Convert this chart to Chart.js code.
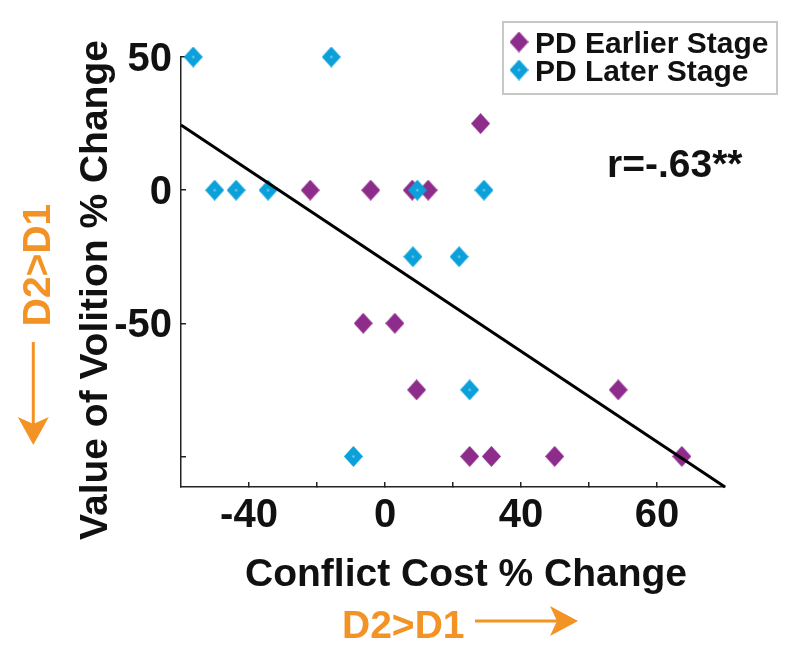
<!DOCTYPE html>
<html><head><meta charset="utf-8">
<script src="https://cdn.jsdelivr.net/npm/chart.js@4.4.1/dist/chart.umd.min.js"></script>
<style>html,body{margin:0;padding:0;background:#fff;overflow:hidden}canvas{display:block}</style>
</head><body>
<canvas id="c" width="800" height="667"></canvas>
<script>
// ---- data ----
const earlierX = [-22, -4.2, 8.0, 12.7, 28.1, -6.4, 2.9, 9.3, 68.6, 24.9, 31.3, 49.9, 87.3];
const earlierY = [0, 0, 0, 0, 25, -50, -50, -75, -75, -100, -100, -100, -100];
const laterX = [-56.4, -15.8, -50.1, -43.8, -34.4, 9.5, 29.1, 8.2, 21.8, 24.9, -9.3];
const laterY = [50, 50, 0, 0, 0, 0, 0, -25, -25, -75, -100];
const fitX = [-60, 100];
const fitY = [24.5, -111.5];
const xTickValues = [-40, -20, 0, 20, 40, 60, 80];
const xTickLabels = ['-40', '', '0', '', '40', '', '60'];
const yTickValues = [-100, -50, 0, 50];
const yTickLabels = ['', '-50', '0', '50'];
const seriesNames = ['PD Earlier Stage', 'PD Later Stage'];
const xTitle = 'Conflict Cost % Change';
const yTitle = 'Value of Volition % Change';
const corrText = 'r=-.63**';
const dirText = 'D2>D1';

const FONT = '"Liberation Sans", Arial, Helvetica, sans-serif';
const ORANGE = '#F39325';
const PURPLE = '#8E2C8C';
const CYAN = '#0BA0DA';
const INK = '#111111';

function diamond(color, w, h, dot) {
  const c = document.createElement('canvas');
  c.width = w; c.height = h;
  const g = c.getContext('2d');
  g.fillStyle = color;
  g.beginPath();
  g.moveTo(w / 2, 0); g.lineTo(w, h / 2); g.lineTo(w / 2, h); g.lineTo(0, h / 2);
  g.closePath(); g.fill();
  if (dot) { g.fillStyle = 'rgba(255,255,255,0.55)'; g.fillRect(w / 2 - 1, h / 2 - 1, 2, 2); }
  return c;
}
const purpleMark = diamond(PURPLE, 19, 21, false);
const cyanMark = diamond(CYAN, 19, 21, true);

function pts(xs, ys) { return xs.map((x, i) => ({ x: x, y: ys[i] })); }

function arrowHead(ctx, tipX, tipY, dx, dy, len, half, notch) {
  const px = -dy, py = dx;
  const bx = tipX - dx * len, by = tipY - dy * len;
  ctx.beginPath();
  ctx.moveTo(tipX, tipY);
  ctx.lineTo(bx + px * half, by + py * half);
  ctx.lineTo(tipX - dx * (len - notch), tipY - dy * (len - notch));
  ctx.lineTo(bx - px * half, by - py * half);
  ctx.closePath();
  ctx.fill();
}

const decor = {
  id: 'decor',
  afterDraw(chart) {
    const ctx = chart.ctx;
    ctx.save();
    // axis titles
    ctx.fillStyle = INK;
    ctx.font = 'bold 39px ' + FONT;
    ctx.textAlign = 'center';
    ctx.textBaseline = 'alphabetic';
    ctx.fillText(xTitle, 466, 586);
    ctx.save();
    ctx.translate(107, 290);
    ctx.rotate(-Math.PI / 2);
    ctx.fillText(yTitle, 0, 0);
    ctx.restore();
    // correlation text
    ctx.textAlign = 'left';
    ctx.fillText(corrText, 607, 177);
    // orange direction labels
    ctx.fillStyle = ORANGE;
    ctx.strokeStyle = ORANGE;
    ctx.fillText(dirText, 342, 638);
    ctx.save();
    ctx.translate(50, 265);
    ctx.rotate(-Math.PI / 2);
    ctx.textAlign = 'center';
    ctx.fillText(dirText, 0, 0);
    ctx.restore();
    ctx.lineWidth = 3;
    ctx.beginPath(); ctx.moveTo(475, 621); ctx.lineTo(560, 621); ctx.stroke();
    arrowHead(ctx, 578, 621, 1, 0, 28, 15, 7);
    ctx.beginPath(); ctx.moveTo(33.3, 342); ctx.lineTo(33.3, 428); ctx.stroke();
    arrowHead(ctx, 33.3, 445, 0, 1, 28, 15.5, 7);
    // legend
    ctx.fillStyle = '#ffffff';
    ctx.fillRect(503, 22, 274, 72);
    ctx.strokeStyle = '#c8c8c8';
    ctx.lineWidth = 2;
    ctx.strokeRect(503, 22, 274, 72);
    const marks = [purpleMark, cyanMark];
    const rows = [42, 70];
    ctx.fillStyle = INK;
    ctx.font = 'bold 30px ' + FONT;
    ctx.textAlign = 'left';
    seriesNames.forEach((name, i) => {
      const m = marks[i];
      ctx.drawImage(m, 519 - m.width / 2, rows[i] - m.height / 2);
      ctx.fillText(name, 535, rows[i] + 11);
    });
    ctx.restore();
  }
};

Chart.defaults.font.family = FONT;

new Chart(document.getElementById('c'), {
  type: 'scatter',
  data: {
    datasets: [
      {
        label: 'fit',
        data: pts(fitX, fitY),
        showLine: true,
        borderColor: '#000000',
        borderWidth: 3,
        pointRadius: 0,
        clip: false,
        order: 0
      },
      {
        label: seriesNames[1],
        data: pts(laterX, laterY),
        pointStyle: cyanMark,
        pointRadius: 10,
        backgroundColor: CYAN,
        borderWidth: 0,
        clip: false,
        order: 1
      },
      {
        label: seriesNames[0],
        data: pts(earlierX, earlierY),
        pointStyle: purpleMark,
        pointRadius: 10,
        backgroundColor: PURPLE,
        borderWidth: 0,
        clip: false,
        order: 2
      }
    ]
  },
  options: {
    responsive: false,
    animation: false,
    devicePixelRatio: 1,
    layout: { padding: { left: 0, top: 57, right: 75, bottom: 0 } },
    plugins: { legend: { display: false }, tooltip: { enabled: false } },
    events: [],
    scales: {
      x: {
        type: 'linear',
        min: -60,
        max: 100,
        afterBuildTicks: s => { s.ticks = xTickValues.map(v => ({ value: v })); },
        afterFit: s => { s.height = 180; },
        ticks: {
          callback: (v, i) => xTickLabels[i],
          autoSkip: false,
          maxRotation: 0,
          padding: 10,
          color: INK,
          font: { size: 40, weight: 'bold', family: FONT }
        },
        grid: { drawOnChartArea: false, tickLength: -5, color: '#222', lineWidth: 1.5 },
        border: { display: true, color: '#222', width: 1.5 }
      },
      y: {
        type: 'linear',
        min: -111.5,
        max: 50,
        afterBuildTicks: s => { s.ticks = yTickValues.map(v => ({ value: v })); },
        afterFit: s => { s.width = 181; },
        ticks: {
          callback: (v, i) => yTickLabels[i],
          autoSkip: false,
          padding: 14,
          labelOffset: 3,
          color: INK,
          font: { size: 40, weight: 'bold', family: FONT }
        },
        grid: { drawOnChartArea: false, tickLength: -5, color: '#222', lineWidth: 1.5 },
        border: { display: true, color: '#222', width: 1.5 }
      }
    }
  },
  plugins: [decor]
});
</script>
</body></html>
